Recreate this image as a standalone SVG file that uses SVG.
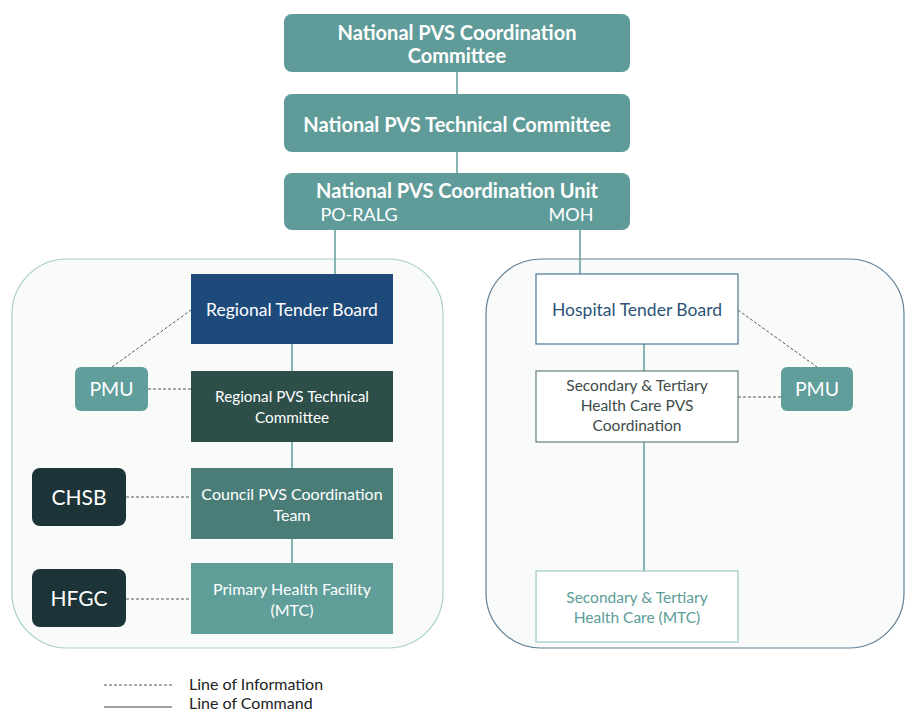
<svg xmlns="http://www.w3.org/2000/svg" width="905" height="713" viewBox="0 0 905 713">
<style>
text{font-family:Lato,"Open Sans","Liberation Sans",sans-serif;text-anchor:middle}
.nat{fill:#5f9c99}
.nt{fill:#fff;font-weight:bold;font-size:20px}
.wt{fill:#fff;font-size:16px}
.cmd{stroke:#5f9c99;stroke-width:1.5;fill:none}
.info{stroke:#555;stroke-width:1;stroke-dasharray:3 2;fill:none}
.leg{fill:#222;font-size:16px;text-anchor:start}
</style>
<rect width="905" height="713" fill="#fff"/>
<g id="containers">
<rect x="12" y="259" width="431" height="389" rx="55" fill="#f9fbfb" stroke="#a9cfcb" stroke-width="1.2"/>
<rect x="486" y="259" width="418" height="389" rx="55" fill="#f9fbfb" stroke="#5f7f95" stroke-width="1.2"/>
</g>
<g id="connectors">
<line class="cmd" x1="457" y1="72" x2="457" y2="94"/>
<line class="cmd" x1="457" y1="152" x2="457" y2="173"/>
<line class="cmd" x1="335" y1="230" x2="335" y2="274"/>
<line class="cmd" x1="580" y1="230" x2="580" y2="274"/>
<line class="cmd" x1="292" y1="344" x2="292" y2="371"/>
<line class="cmd" x1="292" y1="442" x2="292" y2="468"/>
<line class="cmd" x1="292" y1="539" x2="292" y2="563"/>
<line class="cmd" x1="644" y1="344" x2="644" y2="371"/>
<line class="cmd" x1="644" y1="442" x2="644" y2="571"/>
<line class="info" x1="112" y1="367" x2="191" y2="310"/>
<line class="info" x1="148" y1="389" x2="191" y2="389"/>
<line class="info" x1="126" y1="497" x2="191" y2="497"/>
<line class="info" x1="126" y1="599" x2="191" y2="599"/>
<line class="info" x1="738" y1="310" x2="817" y2="367"/>
<line class="info" x1="738" y1="397" x2="781" y2="397"/>
</g>
<g id="n-coord-committee">
<rect class="nat" x="284" y="14" width="346" height="58" rx="8"/>
<text class="nt" x="457" y="40">National PVS Coordination</text>
<text class="nt" x="457" y="63">Committee</text>
</g>
<g id="n-tech-committee">
<rect class="nat" x="284" y="94" width="346" height="58" rx="8"/>
<text class="nt" x="457" y="132">National PVS Technical Committee</text>
</g>
<g id="n-coord-unit">
<rect class="nat" x="284" y="173" width="346" height="57" rx="8"/>
<text class="nt" x="457" y="198">National PVS Coordination Unit</text>
<text class="wt" x="359" y="221" style="font-size:18px">PO-RALG</text>
<text class="wt" x="571" y="221" style="font-size:18px">MOH</text>
</g>
<g id="n-regional-tender">
<rect x="191" y="274" width="202" height="70" fill="#1e4a7b"/>
<text class="wt" x="292" y="316" style="font-size:17.5px">Regional Tender Board</text>
</g>
<g id="n-regional-tech">
<rect x="191" y="371" width="202" height="71" fill="#2d4e49"/>
<text class="wt" x="292" y="402" style="font-size:15.3px">Regional PVS Technical</text>
<text class="wt" x="292" y="423" style="font-size:15.3px">Committee</text>
</g>
<g id="n-council">
<rect x="191" y="468" width="202" height="71" fill="#4a7d77"/>
<text class="wt" x="292" y="500">Council PVS Coordination</text>
<text class="wt" x="292" y="521">Team</text>
</g>
<g id="n-primary">
<rect x="191" y="563" width="202" height="71" fill="#5f9e99"/>
<text class="wt" x="292" y="595">Primary Health Facility</text>
<text class="wt" x="292" y="616">(MTC)</text>
</g>
<g id="n-pmu-left">
<rect x="75" y="367" width="73" height="44" rx="6" fill="#5f9e9a"/>
<text class="wt" x="111.5" y="396" style="font-size:19.5px">PMU</text>
</g>
<g id="n-chsb">
<rect x="32" y="468" width="94" height="58" rx="8" fill="#1c3338"/>
<text class="wt" x="79" y="505" style="font-size:21px">CHSB</text>
</g>
<g id="n-hfgc">
<rect x="32" y="569" width="94" height="58" rx="8" fill="#1c3338"/>
<text class="wt" x="79" y="606" style="font-size:21px">HFGC</text>
</g>
<g id="n-hospital-tender">
<rect x="536" y="274" width="202" height="70" fill="#fff" stroke="#4a7596" stroke-width="1.2"/>
<text x="637" y="316" fill="#2d5478" font-size="17.5">Hospital Tender Board</text>
</g>
<g id="n-secondary-coord">
<rect x="536" y="371" width="202" height="71" fill="#fff" stroke="#5f807c" stroke-width="1.2"/>
<text x="637" y="391" fill="#3d4b49" font-size="15.5">Secondary &amp; Tertiary</text>
<text x="637" y="411" fill="#3d4b49" font-size="15.5">Health Care PVS</text>
<text x="637" y="431" fill="#3d4b49" font-size="15.5">Coordination</text>
</g>
<g id="n-secondary-mtc">
<rect x="536" y="571" width="202" height="71" fill="#fff" stroke="#9cc7c2" stroke-width="1.2"/>
<text x="637" y="603" fill="#5a9d97" font-size="15.5">Secondary &amp; Tertiary</text>
<text x="637" y="623" fill="#5a9d97" font-size="15.5">Health Care (MTC)</text>
</g>
<g id="n-pmu-right">
<rect x="781" y="367" width="72" height="44" rx="6" fill="#5f9e9a"/>
<text class="wt" x="817" y="396" style="font-size:19.5px">PMU</text>
</g>
<g id="legend">
<line class="info" x1="104" y1="685" x2="172" y2="685"/>
<text class="leg" x="189" y="690">Line of Information</text>
<line x1="104" y1="707" x2="172" y2="707" stroke="#444" stroke-width="1"/>
<text class="leg" x="189" y="709">Line of Command</text>
</g>
</svg>
